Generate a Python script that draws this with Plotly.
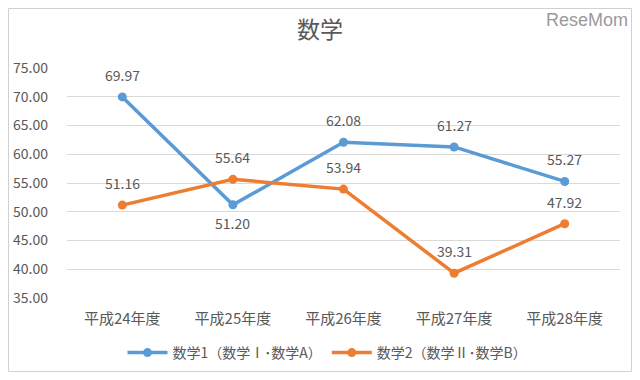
import plotly.graph_objects as go

categories = ["平成24年度", "平成25年度", "平成26年度", "平成27年度", "平成28年度"]
math1 = [69.97, 51.20, 62.08, 61.27, 55.27]
math2 = [51.16, 55.64, 53.94, 39.31, 47.92]
label_below1 = [False, True, False, False, False]
name1 = "数学1（数学Ⅰ･数学A）"
name2 = "数学2（数学Ⅱ･数学B）"

font = "Noto Sans CJK JP"
gray = "#595959"
blue = "#5B9BD5"
orange = "#ED7D31"

W, H = 624, 364
L, R, T, B = 59, 12, 60, 74
PW, PH = W - L - R, H - T - B

fig = go.Figure()
fig.add_trace(go.Scatter(
    x=categories, y=math1, name=name1, mode="lines+markers",
    line=dict(color=blue, width=3.5), marker=dict(size=9, color=blue),
))
fig.add_trace(go.Scatter(
    x=categories, y=math2, name=name2, mode="lines+markers",
    line=dict(color=orange, width=3.5), marker=dict(size=9, color=orange),
))

annotations = []
for c, v, below in zip(categories, math1, label_below1):
    annotations.append(dict(x=c, y=v, xref="x", yref="y", text=f"{v:.2f}", showarrow=False,
                            yshift=-18 if below else 22,
                            font=dict(size=14, color=gray, family=font)))
for c, v in zip(categories, math2):
    annotations.append(dict(x=c, y=v, xref="x", yref="y", text=f"{v:.2f}", showarrow=False,
                            yshift=22, font=dict(size=14, color=gray, family=font)))
annotations.append(dict(text="ReseMom", xref="paper", yref="paper", x=1 + 10 / PW, y=1 + T / PH,
                        xanchor="right", yanchor="top", showarrow=False,
                        font=dict(size=18, color="#9a9a9a", family="Liberation Sans")))

fig.update_layout(
    width=W, height=H,
    margin=dict(l=L, r=R, t=T, b=B, autoexpand=False),
    paper_bgcolor="white", plot_bgcolor="white",
    font=dict(family=font, color=gray, size=14),
    title=dict(text="数学", x=0.5, xanchor="center", y=1 - 22 / H, yanchor="middle",
               font=dict(size=23, color=gray, family=font)),
    showlegend=True,
    legend=dict(orientation="h", x=0.5 - 16 / PW, xanchor="center", y=-55 / PH, yanchor="middle",
                font=dict(size=14, color=gray, family=font), itemwidth=40),
    xaxis=dict(range=[-0.5, 4.5], showgrid=False, showline=False, ticks="",
               ticklabelstandoff=10, tickfont=dict(size=15, color=gray)),
    yaxis=dict(range=[35, 75], dtick=5, tickformat=".2f", showgrid=True,
               gridcolor="#D9D9D9", gridwidth=1, zeroline=False, showline=False,
               ticks="", ticklabelstandoff=18, tickfont=dict(size=14, color=gray)),
    shapes=[dict(type="rect", xref="paper", yref="paper", x0=-(L - 0.5) / PW, x1=1 + (R - 0.5) / PW,
                 y0=-(B - 0.5) / PH, y1=1 + (T - 0.5) / PH, line=dict(color="#D0D0D0", width=1))],
    annotations=annotations,
)

fig.write_html("out.html")
